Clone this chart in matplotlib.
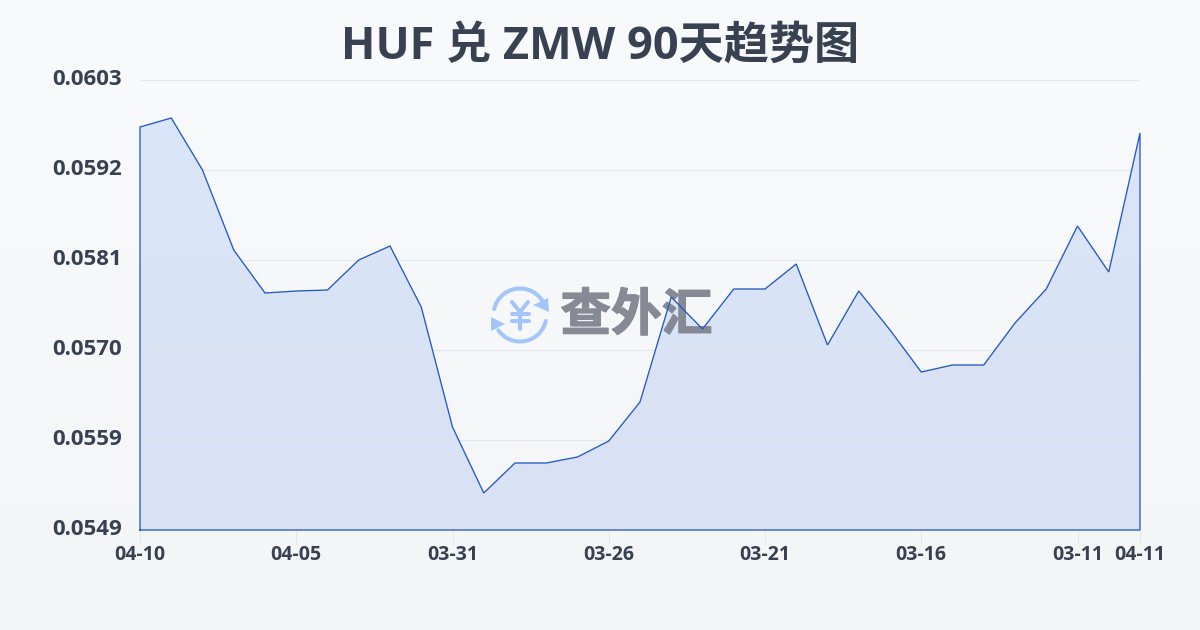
import numpy as np
import matplotlib
matplotlib.use('Agg')
import matplotlib.pyplot as plt
import matplotlib.patheffects as pe
from matplotlib.colors import LinearSegmentedColormap
from matplotlib.patches import Arc, Polygon
from matplotlib.transforms import ScaledTranslation

plt.rcParams['font.family'] = ['Open Sans', 'Noto Sans CJK SC', 'DejaVu Sans']

title = "HUF 兑 ZMW 90天趋势图"
tick_idx = [0, 5, 10, 15, 20, 25, 30, 32]
tick_labels = ['04-10', '04-05', '03-31', '03-26', '03-21', '03-16', '03-11', '04-11']
y_ticks = [0.0603, 0.05922, 0.05814, 0.05706, 0.05598, 0.0549]
y_labels = ['0.0603', '0.0592', '0.0581', '0.0570', '0.0559', '0.0549']
rates = [0.059736, 0.059844, 0.05922, 0.05826, 0.057744, 0.057768, 0.05778, 0.05814,
         0.058308, 0.057576, 0.056136, 0.055344, 0.055704, 0.055704, 0.055776, 0.055968,
         0.056436, 0.057696, 0.057312, 0.057792, 0.057792, 0.058092, 0.05712, 0.057768,
         0.0573, 0.056796, 0.05688, 0.05688, 0.057384, 0.057792, 0.058548, 0.057996, 0.059664]

TEXT = '#374151'
LINE = '#2459c2'
AX_POS = [140 / 1200, 1 - 530 / 630, 1000 / 1200, 450 / 630]

fig = plt.figure(figsize=(12, 6.3), dpi=100)

# page background, light vertical gradient
bg = fig.add_axes([0, 0, 1, 1], zorder=0)
bg.imshow(np.linspace(0, 1, 256).reshape(-1, 1), aspect='auto', extent=(0, 1200, 630, 0),
          cmap=LinearSegmentedColormap.from_list('bg', ['#f9fafc', '#f3f5f7']))
bg.set_xlim(0, 1200)
bg.set_ylim(630, 0)
bg.axis('off')

ax = fig.add_axes(AX_POS, zorder=1)
ax.patch.set_alpha(0)
x = np.arange(len(rates))

# gradient fill under the line
poly = ax.fill_between(x, rates, y_ticks[-1], facecolor='none', edgecolor='none')
fill_cmap = LinearSegmentedColormap.from_list('fill', ['#dae6f9', '#d9e1f4'])
im = ax.imshow(np.linspace(0, 1, 256).reshape(-1, 1), aspect='auto', cmap=fill_cmap, zorder=1,
               extent=(0, len(rates) - 1, y_ticks[-1], y_ticks[0]))
im.set_clip_path(poly.get_paths()[0], transform=ax.transData)
ax.set_xlim(0, len(rates) - 1)
ax.set_ylim(y_ticks[-1], y_ticks[0])

ax.set_yticks(y_ticks, y_labels)
ax.set_xticks(tick_idx, tick_labels)
ax.grid(axis='y', color='#dfe3ea', lw=0.8, alpha=0.8, zorder=2)
ax.set_axisbelow(False)
ax.tick_params(axis='y', length=0, pad=13, labelsize=16, labelcolor=TEXT)
ax.tick_params(axis='x', length=10, width=0.8, color='#e3e6eb', pad=1, labelsize=14, labelcolor=TEXT)
for lab in ax.get_yticklabels() + ax.get_xticklabels():
    lab.set_fontweight('bold')
# y labels sit a little above their grid lines
for lab in ax.get_yticklabels():
    lab.set_transform(lab.get_transform() + ScaledTranslation(0, 2 / 72, fig.dpi_scale_trans))
for s in ax.spines.values():
    s.set_visible(False)

# watermark logo, sits over the fill and under the line
wm = fig.add_axes([0, 0, 1, 1], zorder=2)
wm.patch.set_alpha(0)
wm.set_xlim(0, 1200)
wm.set_ylim(630, 0)
wm.axis('off')
BLUE = '#a3c5f9'
WM_GREY = '#858a94'
cx, cy, r = 520, 315, 26.5
wm.add_patch(Arc((cx, cy), 2 * r, 2 * r, theta1=193, theta2=325, color=BLUE, lw=2.9, capstyle='round'))
wm.add_patch(Arc((cx, cy), 2 * r, 2 * r, theta1=13, theta2=145, color=BLUE, lw=2.9, capstyle='round'))
wm.add_patch(Polygon([(549, 312), (548, 298), (533, 305)], color=BLUE, lw=0))
wm.add_patch(Polygon([(491, 317), (491, 331), (505, 324)], color=BLUE, lw=0))
wm.plot([512, 520, 528], [302, 312, 302], color=BLUE, lw=2.9, solid_capstyle='round')
wm.plot([512, 529], [314, 314], color=BLUE, lw=2.9, solid_capstyle='round')
wm.plot([512, 529], [321, 321], color=BLUE, lw=2.9, solid_capstyle='round')
wm.plot([520, 520], [312, 329], color=BLUE, lw=2.9, solid_capstyle='round')
wm.text(636.5, 316, '查外汇', fontsize=36.5, fontweight='bold', color=WM_GREY,
        family=['Noto Sans CJK SC', 'DejaVu Sans'], ha='center', va='center',
        path_effects=[pe.withStroke(linewidth=1, foreground=WM_GREY)])

# outline goes round the whole area, on top of the watermark
top = fig.add_axes(AX_POS, zorder=3)
top.patch.set_alpha(0)
top.axis('off')
top.plot(np.r_[x[0], x, x[-1], x[0]], np.r_[y_ticks[-1], rates, y_ticks[-1], y_ticks[-1]],
         color=LINE, lw=0.95, clip_on=False, solid_joinstyle='miter')
top.set_xlim(0, len(rates) - 1)
top.set_ylim(y_ticks[-1], y_ticks[0])

fig.text(0.5, 1 - 47 / 630, title, fontsize=32.5, fontweight='bold', color=TEXT, ha='center', va='center')

fig.savefig('out.png', dpi=100)
